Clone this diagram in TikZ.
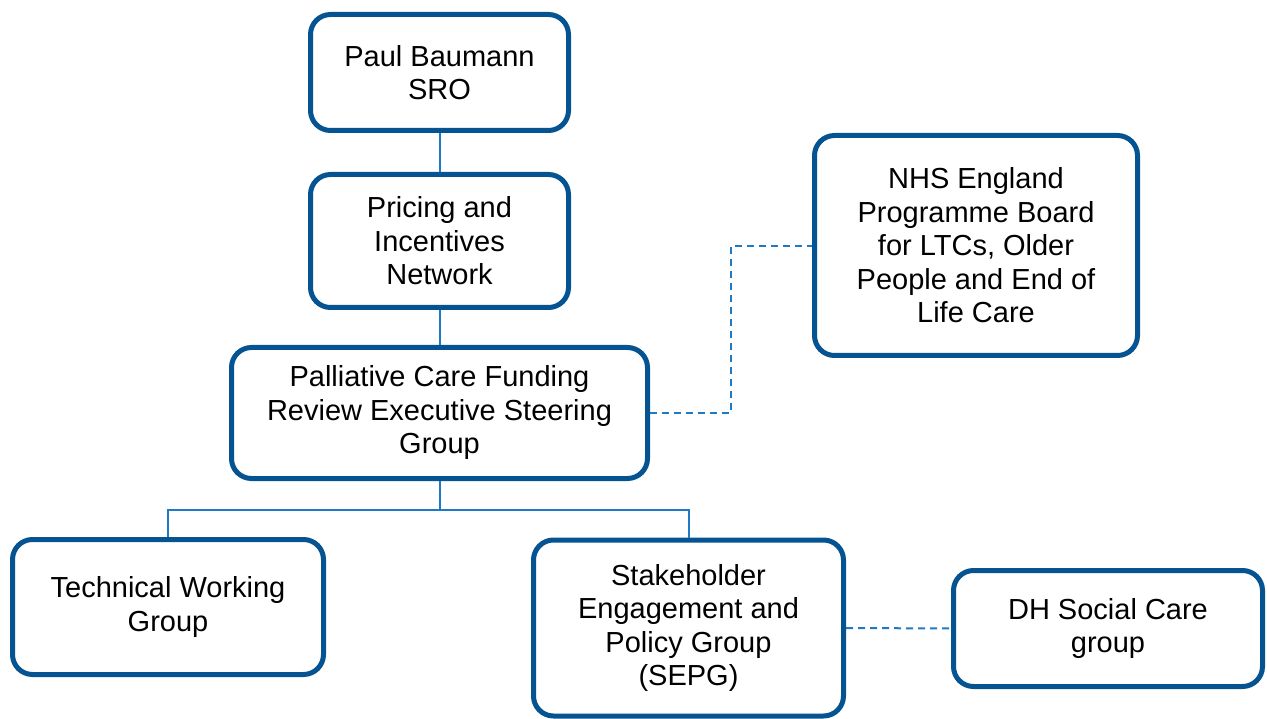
\documentclass[tikz,border=0pt]{standalone}
\usepackage{fontspec}
\setmainfont{Liberation Sans}
\begin{document}
\begin{tikzpicture}[x=1pt,y=-1pt,
  box/.style={draw=boxblue, line width=5pt, rounded corners=20pt, fill=white,
    align=center, inner sep=0pt,
    font=\fontsize{29}{33.5}\selectfont},
  link/.style={draw=lineblue, line width=2pt},
  dlink/.style={draw=lineblue, line width=2pt, dash pattern=on 7pt off 5pt}]
\definecolor{boxblue}{RGB}{5,84,145}
\definecolor{lineblue}{RGB}{30,122,196}
\useasboundingbox (0,0) rectangle (1267,719);
\node[box, minimum width=258pt, minimum height=116pt] (paul) at (439.5,72.5) {Paul Baumann\\SRO};
\node[box, minimum width=258pt, minimum height=133pt] (pin) at (439.5,241) {Pricing and\\Incentives\\Network};
\node[box, minimum width=416pt, minimum height=131pt] (pcf) at (439.5,413) {Palliative Care Funding\\Review Executive Steering\\Group};
\node[box, minimum width=323pt, minimum height=220pt] (nhs) at (976,245.5) {NHS England\\Programme Board\\for LTCs, Older\\People and End of\\Life Care};
\node[box, minimum width=311pt, minimum height=135pt] (twg) at (168,607) {Technical Working\\Group};
\node[box, minimum width=310pt, minimum height=176pt] (sepg) at (688.5,628) {Stakeholder\\Engagement and\\Policy Group\\(SEPG)};
\node[box, minimum width=309pt, minimum height=116pt] (dh) at (1108,628.5) {DH Social Care\\group};
\coordinate (bus) at (439.5,510);
\draw[link] (paul.south) -- (pin.north);
\draw[link] (pin.south) -- (pcf.north);
\draw[link] (pcf.south) -- (bus);
\draw[link] (twg.north) -- (twg.north |- bus) -- (sepg.north |- bus) -- (sepg.north);
\draw[dlink] (pcf.east) -- (731,413) -- (731,246) -- (nhs.west |- 0,246);
\draw[dlink] (sepg.east) -- (dh.west);
\end{tikzpicture}
\end{document}
